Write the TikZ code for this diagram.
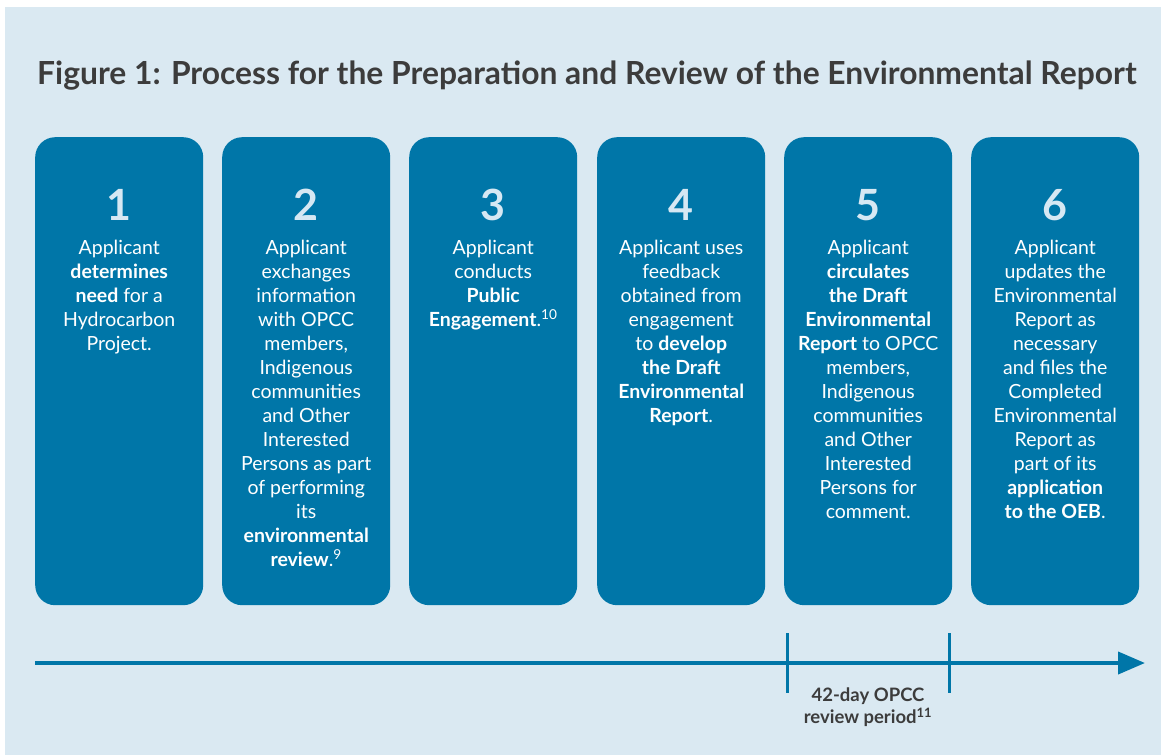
\documentclass[tikz,border=0pt]{standalone}
\usepackage{fontspec}
\setmainfont{Lato}
\usetikzlibrary{arrows.meta}
\definecolor{bgblue}{HTML}{DAE9F2}
\definecolor{boxblue}{HTML}{0076A8}
\definecolor{numblue}{HTML}{D6E8F3}
\definecolor{titlegray}{HTML}{3C3C3C}
\tikzset{
  stepbox/.style={draw=none, fill=boxblue, rounded corners=20pt, minimum width=168pt, minimum height=468pt, inner sep=0pt, anchor=north west},
  stepnum/.style={text=numblue, font=\fontsize{43}{45}\selectfont\bfseries, inner sep=0pt, anchor=center},
  steptext/.style={text=white, font=\fontsize{19.5}{24}\selectfont, align=center, inner sep=0pt, anchor=north},
  tick/.style={draw=boxblue, line width=3pt},
}
\begin{document}
\begin{tikzpicture}[x=1pt,y=-1pt]
\useasboundingbox (0,0) rectangle (1161,755);
\fill[white] (0,0) rectangle (1161,755);
\fill[bgblue] (5,7) rectangle (1161,755);
\node[anchor=west, text=titlegray, font=\fontsize{31.8}{34}\selectfont\bfseries, inner sep=0pt] (title) at (37,76) {Figure 1: Process for the Preparation and Review of the Environmental Report};

\foreach \i/\x in {1/35,2/222,3/409,4/597,5/784,6/971}{
  \node[stepbox] (b\i) at (\x,137) {};
  \node[stepnum] (n\i) at ([yshift=-68pt]b\i.north) {\i};
}
\node[steptext] (t1) at ([yshift=-103pt]b1.north) {Applicant\\\textbf{determines}\\\textbf{need} for a\\Hydrocarbon\\Project.};
\node[steptext] (t2) at ([yshift=-103pt]b2.north) {Applicant\\exchanges\\information\\with OPCC\\members,\\Indigenous\\communities\\and Other\\Interested\\Persons as part\\of performing\\its\\\textbf{environmental}\\\textbf{review}.\textsuperscript{9}};
\node[steptext] (t3) at ([yshift=-103pt]b3.north) {Applicant\\conducts\\\textbf{Public}\\\textbf{Engagement}.\textsuperscript{10}};
\node[steptext] (t4) at ([yshift=-103pt]b4.north) {Applicant uses\\feedback\\obtained from\\engagement\\to \textbf{develop}\\\textbf{the Draft}\\\textbf{Environmental}\\\textbf{Report}.};
\node[steptext] (t5) at ([yshift=-103pt]b5.north) {Applicant\\\textbf{circulates}\\\textbf{the Draft}\\\textbf{Environmental}\\\textbf{Report} to OPCC\\members,\\Indigenous\\communities\\and Other\\Interested\\Persons for\\comment.};
\node[steptext] (t6) at ([yshift=-103pt]b6.north) {Applicant\\updates the\\Environmental\\Report as\\necessary\\and files the\\Completed\\Environmental\\Report as\\part of its\\\textbf{application}\\\textbf{to the OEB}.};

% timeline
\coordinate (tl0) at (35,663);
\coordinate (tl1) at (1145,663);
\draw[draw=boxblue, line width=4pt, -{Triangle[length=27pt, width=22pt]}] (tl0) -- (tl1);
\coordinate (ka) at (787,633);
\coordinate (kb) at (949,633);
\draw[tick] (ka) -- ++(0,60);
\draw[tick] (kb) -- ++(0,60);
\node[anchor=north, text=titlegray, font=\fontsize{18.5}{21.5}\selectfont\bfseries, align=center, inner sep=0pt] (rp) at (868,688) {42-day OPCC\\review period\textsuperscript{11}};
\end{tikzpicture}
\end{document}
